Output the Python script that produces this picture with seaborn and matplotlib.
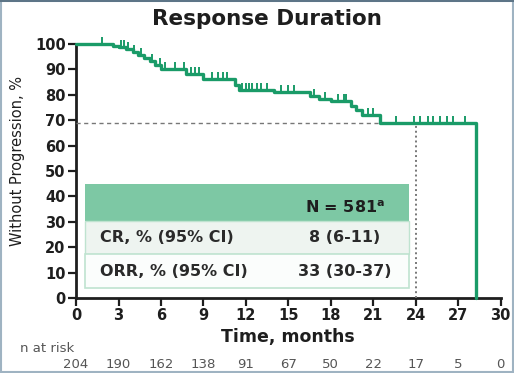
import numpy as np
import pandas as pd
import matplotlib
matplotlib.use("Agg")
import matplotlib.pyplot as plt
import seaborn as sns
from matplotlib.patches import Rectangle

# ---- data ----
times = [0, 2.6, 3.0, 3.5, 4.0, 4.4, 4.8, 5.2, 5.6, 6.0, 7.8, 9.0, 11.2, 11.5,
         14.0, 16.5, 17.2, 18.0, 19.4, 19.8, 20.2, 21.5, 28.25]
surv = [100, 99.4, 98.8, 98, 96.8, 95.6, 94.4, 93.2, 91.8, 90, 88.2, 86.2, 84, 82,
        81, 79.6, 78.4, 77.4, 75.6, 74, 72, 69, 0]
censor_times = [1.8, 3.2, 3.4, 3.7, 4.1, 4.6, 5.4, 5.9, 6.3, 7.0, 7.6, 8.1, 8.4, 8.7,
                9.6, 10.0, 10.4, 10.7, 11.7, 12.0, 12.2, 12.4, 12.8, 13.1, 13.5, 14.5,
                15.0, 15.4, 16.8, 17.6, 18.5, 18.9, 19.1, 20.6, 21.0, 22.6, 23.9,
                24.3, 24.9, 25.2, 25.7, 26.2, 26.6, 27.5]
median_line_y = 69
landmark_x = 24
x_ticks = [0, 3, 6, 9, 12, 15, 18, 21, 24, 27, 30]
y_ticks = [0, 10, 20, 30, 40, 50, 60, 70, 80, 90, 100]
n_at_risk = [204, 190, 162, 138, 91, 67, 50, 22, 17, 5, 0]
table_header = "N = 581$^{\\mathbf{a}}$"
table_rows = ["CR, % (95% CI)", "ORR, % (95% CI)"]
table_values = ["8 (6-11)", "33 (30-37)"]

GREEN = "#1a9b68"
DARK = "#1e1e1e"

sns.set_theme(style="ticks")
plt.rcParams['font.family'] = ['DejaVu Sans']
plt.rcParams['mathtext.default'] = 'bf'

fig = plt.figure(figsize=(5.14, 3.73), dpi=100)
ax = fig.add_axes([0.148, 0.201, 0.826, 0.681])

df = pd.DataFrame({"t": times, "s": surv})
sns.lineplot(data=df, x="t", y="s", ax=ax, color=GREEN, lw=2.4,
             drawstyle="steps-post", estimator=None, sort=False, clip_on=False,
             zorder=5)

# censor marks
ct = np.array(censor_times)
idx = np.searchsorted(np.array(times), ct, side="right") - 1
cs = np.array(surv)[idx]
ax.plot(ct, cs + 1.2, linestyle="none", marker="|", markersize=6,
        markeredgewidth=1.4, color=GREEN, zorder=6, clip_on=False)

ax.plot([0, landmark_x], [median_line_y, median_line_y], ls=(0, (3, 2.5)),
        color="#777777", lw=1.0, zorder=3)
ax.plot([landmark_x, landmark_x], [0, median_line_y], ls=(0, (1, 1.5)),
        color="#777777", lw=1.4, zorder=3)

# table
x0, x1 = 0.64, 23.5
hdr_top, hdr_bot, r1_bot, r2_bot = 44.7, 30.3, 17.3, 3.9
ax.add_patch(Rectangle((x0, hdr_bot), x1 - x0, hdr_top - hdr_bot,
                       facecolor="#7dc8a4", edgecolor="none", zorder=2))
ax.add_patch(Rectangle((x0, r1_bot), x1 - x0, hdr_bot - r1_bot,
                       facecolor="#eef4f0", edgecolor="#bfe3d0", lw=1, zorder=2))
ax.add_patch(Rectangle((x0, r2_bot), x1 - x0, r1_bot - r2_bot,
                       facecolor="#fbfdfc", edgecolor="#bfe3d0", lw=1.2, zorder=2))
val_x = 19.0
ax.text(val_x, 35.5, table_header, ha="center", va="center",
        fontsize=11.5, fontweight="bold", color=DARK, zorder=4)
for i, (lab, val) in enumerate(zip(table_rows, table_values)):
    yc = [(hdr_bot + r1_bot) / 2, (r1_bot + r2_bot) / 2][i]
    ax.text(1.7, yc, lab, ha="left", va="center", fontsize=11.5,
            fontweight="bold", color="#2a2a2a", zorder=4)
    ax.text(val_x, yc, val, ha="center", va="center", fontsize=11.5,
            fontweight="bold", color="#2a2a2a", zorder=4)

ax.set_xlim(0, 30)
ax.set_ylim(0, 100)
ax.set_xticks(x_ticks)
ax.set_yticks(y_ticks)
ax.set_xticklabels([str(v) for v in x_ticks], fontsize=10.5, fontweight="bold",
                   color=DARK)
ax.set_yticklabels([str(v) for v in y_ticks], fontsize=10.5, fontweight="bold",
                   color=DARK)
ax.tick_params(axis="both", length=6, width=1.6, color=DARK, pad=1.5)
for sp in ["left", "bottom"]:
    ax.spines[sp].set_linewidth(2.0)
    ax.spines[sp].set_color(DARK)
sns.despine(ax=ax)
ax.set_xlabel("Time, months", fontsize=12.5, fontweight="bold", color=DARK,
              labelpad=3)
ax.set_ylabel("Without Progression, %", fontsize=10.5, color=DARK)
ax.yaxis.set_label_coords(-0.12, 0.54)
fig.text(267 / 514, 1 - 19 / 373, "Response Duration", fontsize=15.5,
         fontweight="bold", color=DARK, ha="center", va="center")

# n at risk
fig.text(20 / 514, 1 - 348 / 373, "n at risk", fontsize=9.5, color="#555555",
         ha="left", va="center")
for xv, n in zip(x_ticks, n_at_risk):
    xf = ax.transData.transform((xv, 0))[0]
    xf = fig.transFigure.inverted().transform((xf, 0))[0]
    fig.text(xf, 1 - 364 / 373, str(n), fontsize=9.5, color="#555555",
             ha="center", va="center")

fig.patches.append(Rectangle((0.002, 0.002), 0.996, 0.996, transform=fig.transFigure,
                             fill=False, edgecolor="#9fb3c2", lw=1.5))
fig.patches.append(Rectangle((0, 0.994), 1, 0.006, transform=fig.transFigure,
                             facecolor="#5d7587", edgecolor="none"))

fig.savefig("out.png", dpi=100)
